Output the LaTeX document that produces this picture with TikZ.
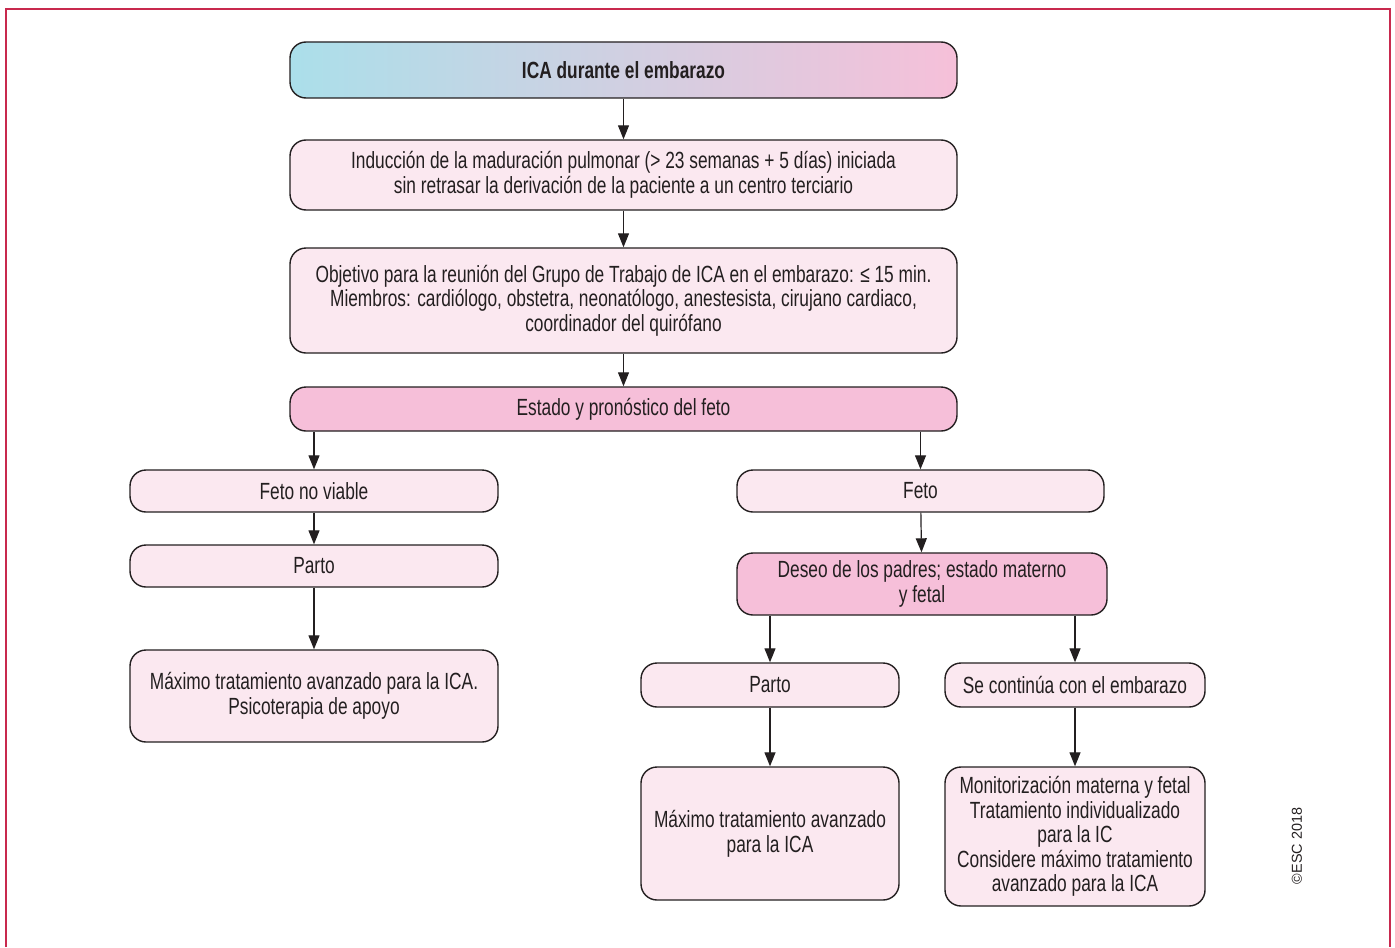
\documentclass[tikz,border=0pt]{standalone}
\usepackage{fontspec}
\setmainfont{Liberation Sans}[FakeStretch=0.74]
\newfontfamily\crfont{Liberation Sans}
\usetikzlibrary{arrows.meta}
\definecolor{frameC}{HTML}{C8294E}
\definecolor{lightP}{HTML}{FBE8F0}
\definecolor{darkP}{HTML}{F6BFD9}
\definecolor{cyanL}{HTML}{ABDFEA}
\definecolor{pinkR}{HTML}{F6C0D9}
\definecolor{lineC}{HTML}{231F20}
\tikzset{
  box/.style={draw=lineC, line width=0.7pt, rounded corners=8pt, fill=lightP, inner sep=0pt,
    align=center, font=\fontsize{11.7}{12.3}\selectfont, text=lineC},
  dbox/.style={box, fill=darkP},
  arr/.style={draw=lineC, line width=0.6pt, -{Triangle[length=7pt,width=5.5pt]}},
  frameline/.style={draw=frameC, line width=1.1pt}
}
\begin{document}
\begin{tikzpicture}[x=0.5pt,y=-0.5pt]
\useasboundingbox (0,0) rectangle (1395,947);
\draw[frameline] (6,947) -- (6,9) -- (1390,9) -- (1390,947);

\node[box, left color=cyanL, right color=pinkR, minimum width=333.5pt, minimum height=28pt] (top) at (623.5,70) {\bfseries ICA durante el embarazo};
\node[box, minimum width=333.5pt, minimum height=35pt] (ind) at (623.5,175) {Inducción de la maduración pulmonar (> 23 semanas + 5 días) iniciada\\sin retrasar la derivación de la paciente a un centro terciario};
\node[box, minimum width=333.5pt, minimum height=52.5pt] (obj) at (623.5,300.5) {Objetivo para la reunión del Grupo de Trabajo de ICA en el embarazo: ≤ 15 min.\\Miembros: cardiólogo, obstetra, neonatólogo, anestesista, cirujano cardiaco,\\coordinador del quirófano};
\node[dbox, minimum width=333.5pt, minimum height=22pt] (est) at (623.5,409) {Estado y pronóstico del feto};

\node[box, minimum width=184pt, minimum height=21pt] (fnv) at (314,491) {Feto no viable};
\node[box, minimum width=183.5pt, minimum height=21pt] (feto) at (920.5,491) {Feto};
\node[box, minimum width=184pt, minimum height=21pt] (parL) at (314,566) {Parto};
\node[box, minimum width=184pt, minimum height=46pt] (maxL) at (314,696) {Máximo tratamiento avanzado para la ICA.\\Psicoterapia de apoyo};

\node[dbox, minimum width=185pt, minimum height=31pt] (des) at (922,584) {Deseo de los padres; estado materno\\y fetal};
\node[box, minimum width=129pt, minimum height=22pt] (parR) at (770,685) {Parto};
\node[box, minimum width=130pt, minimum height=22pt] (sc) at (1075,685) {Se continúa con el embarazo};
\node[box, minimum width=129pt, minimum height=66.5pt] (maxR) at (770,833.5) {Máximo tratamiento avanzado\\para la ICA};
\node[box, minimum width=130pt, minimum height=69.5pt] (mon) at (1075,836.5) {Monitorización materna y fetal\\Tratamiento individualizado\\para la IC\\Considere máximo tratamiento\\avanzado para la ICA};

\node[rotate=90, font=\crfont\fontsize{7.2}{9}\selectfont, text=lineC] (cr) at (1297,846) {©ESC 2018};

\draw[arr] (top) -- (ind);
\draw[arr] (ind) -- (obj);
\draw[arr] (obj) -- (est);
\draw[arr] (fnv.north |- est.south) -- (fnv.north);
\draw[arr] (feto.north |- est.south) -- (feto.north);
\draw[arr] (fnv) -- (parL);
\draw[arr] (parL) -- (maxL);
\draw[arr] (feto) -- (des);
\draw[arr] (parR.north |- des.south) -- (parR.north);
\draw[arr] (sc.north |- des.south) -- (sc.north);
\draw[arr] (parR) -- (maxR);
\draw[arr] (sc) -- (mon);
\end{tikzpicture}
\end{document}
